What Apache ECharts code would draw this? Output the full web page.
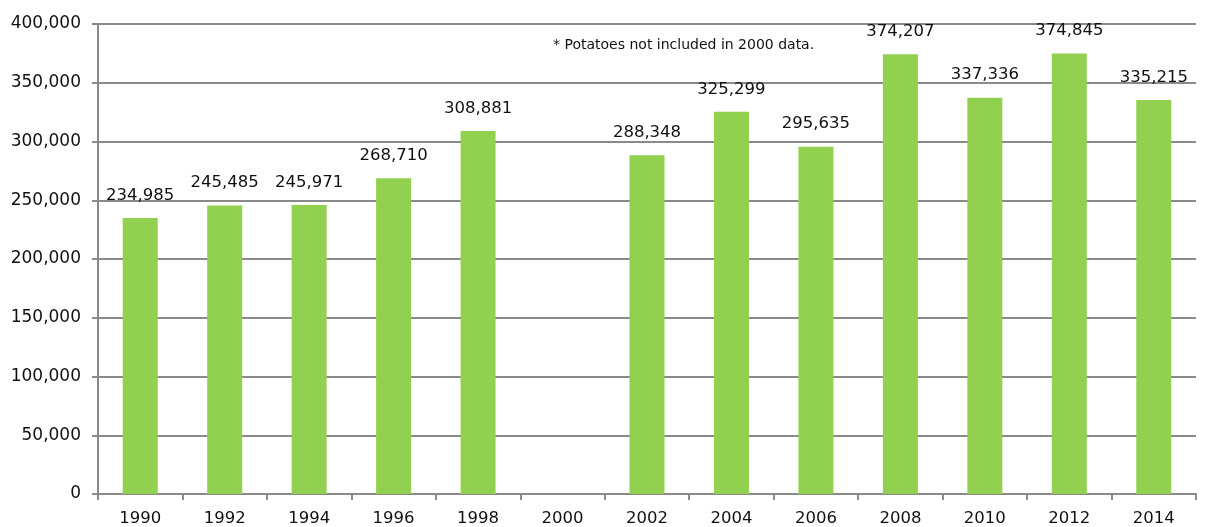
<!DOCTYPE html>
<html><head><meta charset="utf-8">
<script src="https://cdn.jsdelivr.net/npm/echarts@6/dist/echarts.min.js"></script>
<style>html,body{margin:0;padding:0;background:#fff}#c{width:1206px;height:527px}</style>
</head><body><div id="c"></div>
<script>
const categories = ['1990','1992','1994','1996','1998','2000','2002','2004','2006','2008','2010','2012','2014'];
const values = [234985, 245485, 245971, 268710, 308881, null, 288348, 325299, 295635, 374207, 337336, 374845, 335215];
const note = '* Potatoes not included in 2000 data.';

const chart = echarts.init(document.getElementById('c'), null, {renderer:'canvas'});
const fontFam = '"DejaVu Sans", Verdana, sans-serif';
chart.setOption({
  animation:false,
  grid:{left:98, right:10, top:24, bottom:33, containLabel:false},
  xAxis:{type:'category', data:categories, boundaryGap:true,
    axisLine:{lineStyle:{color:'#8a8a8a', width:2}},
    axisTick:{show:true, alignWithLabel:false, length:6, lineStyle:{color:'#8a8a8a', width:2}},
    axisLabel:{color:'#111', fontSize:16.5, fontFamily:fontFam, margin:16}},
  yAxis:{type:'value', min:0, max:400000, interval:50000,
    axisLine:{show:true, lineStyle:{color:'#8a8a8a', width:2}},
    axisTick:{show:true, length:6, lineStyle:{color:'#8a8a8a', width:2}},
    splitLine:{lineStyle:{color:'#8a8a8a', width:2}},
    axisLabel:{color:'#111', fontSize:17, fontFamily:fontFam, margin:17,
      formatter:v=>v.toLocaleString('en-US')}},
  series:[{type:'bar', data:values, barWidth:35, itemStyle:{color:'#92D050'},
    label:{show:true, position:'top', distance:14, color:'#111', fontSize:16.5, fontFamily:fontFam,
      formatter:p=>p.value==null?'':p.value.toLocaleString('en-US')}}],
  graphic:[{type:'text', left:553, top:38, style:{text:note, fill:'#111', font:'14px '+fontFam}}]
});
</script></body></html>
